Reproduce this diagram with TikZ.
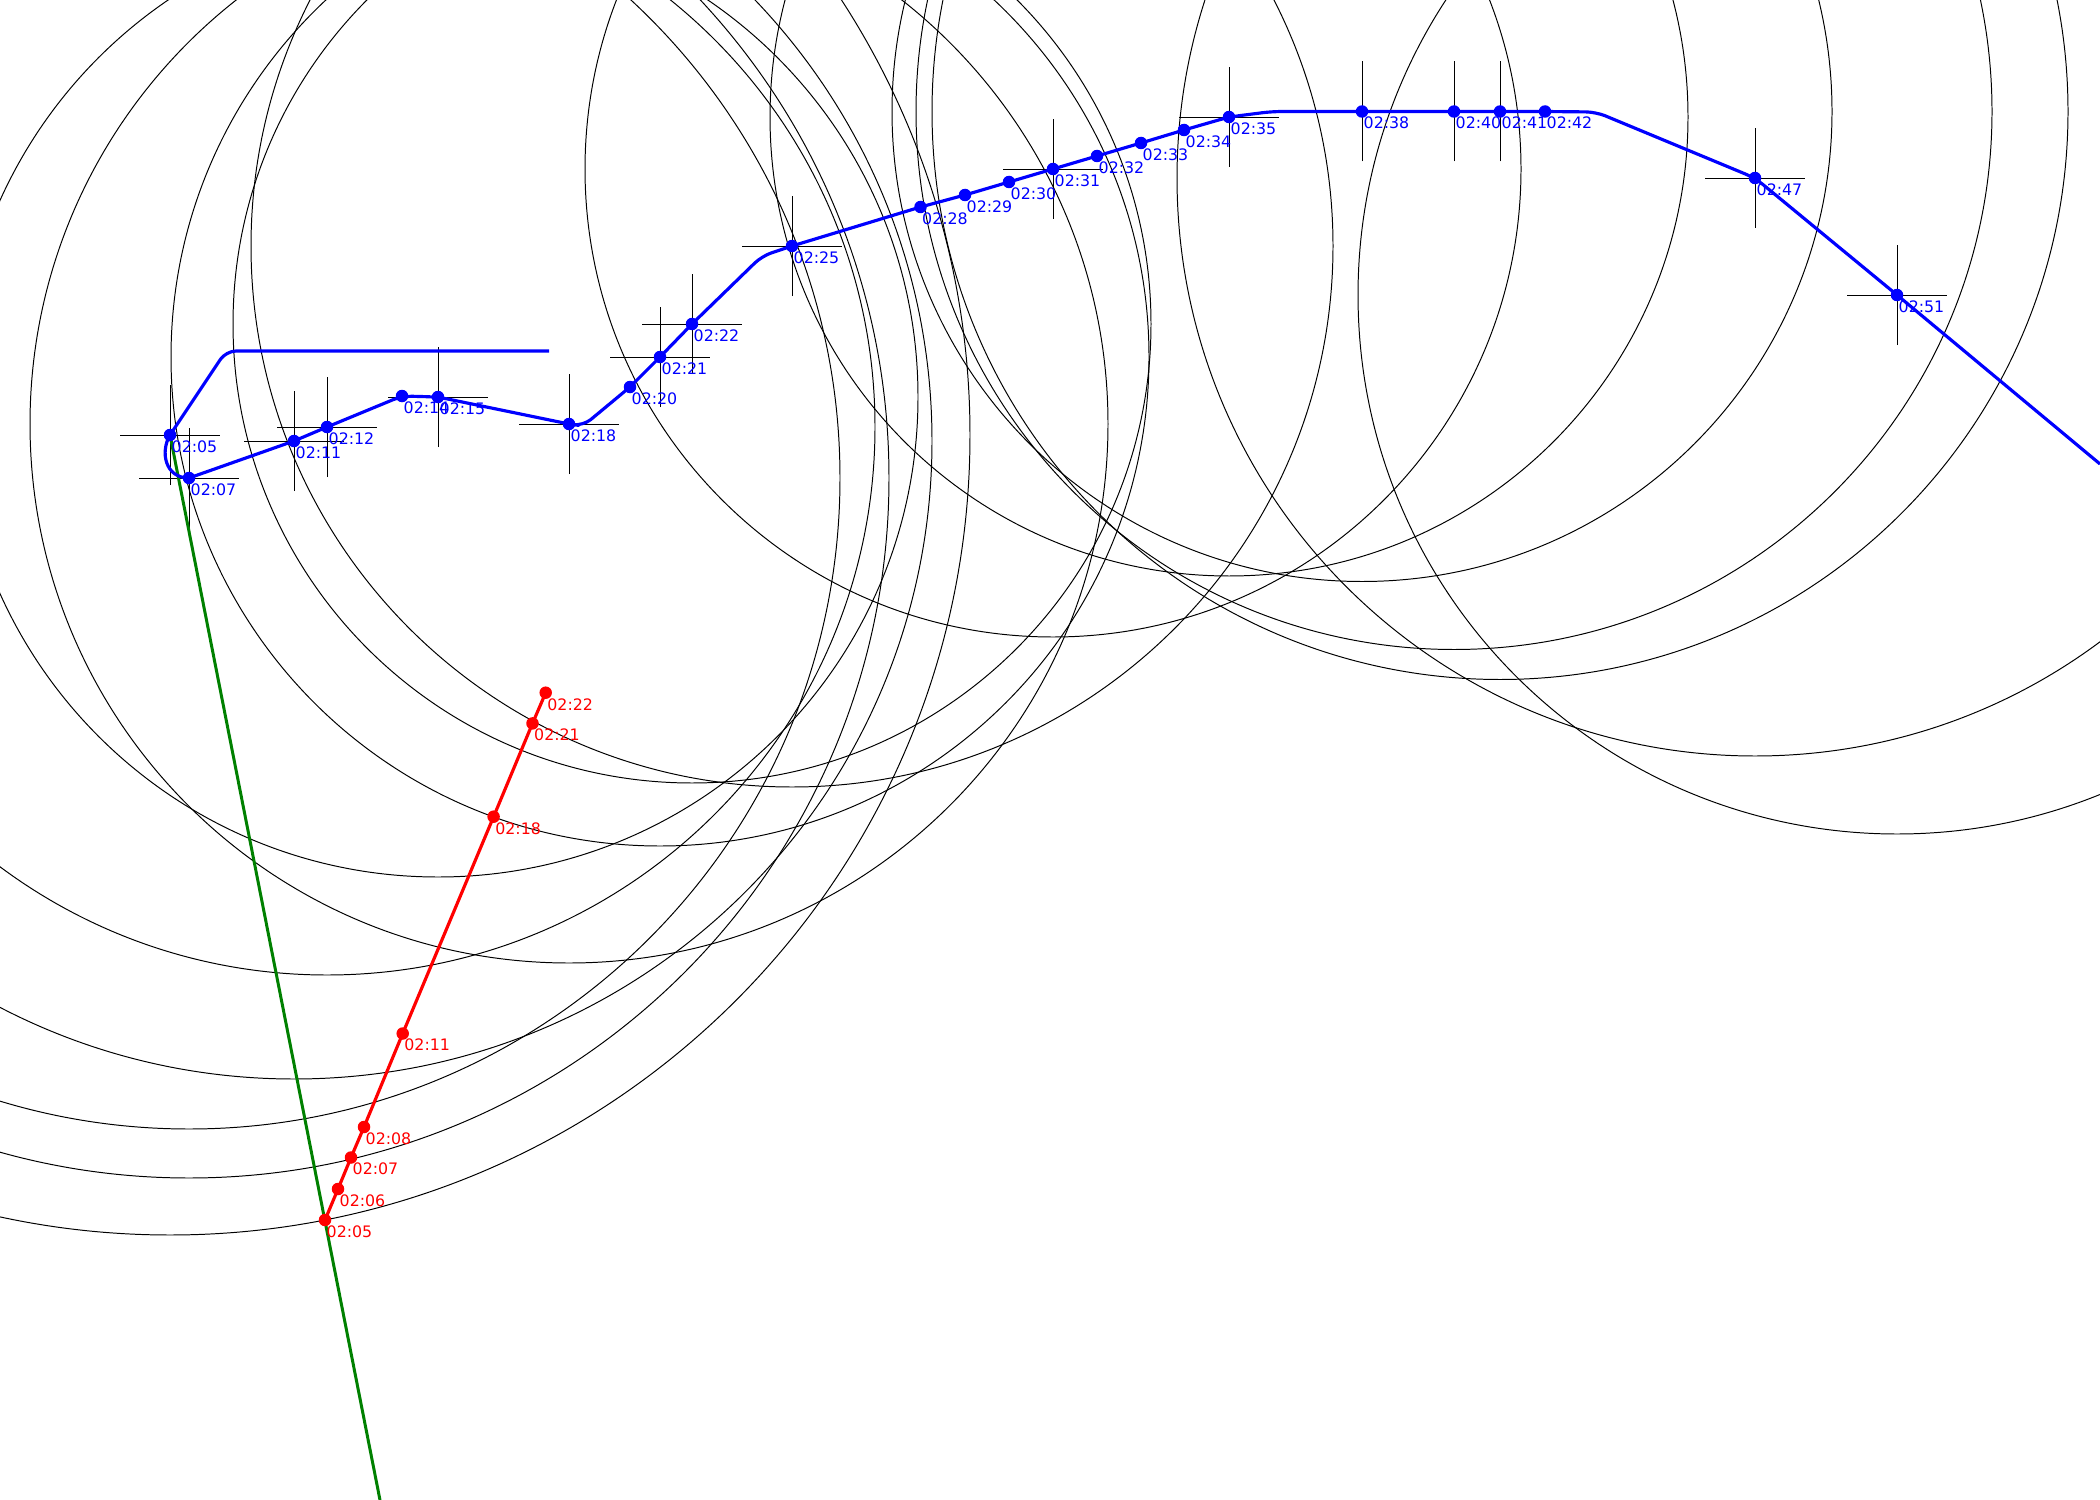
\documentclass[tikz,border=0pt]{standalone}
\usepackage{fontspec}
\newfontfamily\labfont{DejaVu Sans}
\usetikzlibrary{calc}
\definecolor{trackblue}{rgb}{0, 0, 1}
\definecolor{trackred}{rgb}{1, 0, 0}
\definecolor{trackgreen}{rgb}{0, 0.5, 0}
\tikzset{
    ring/.style={line width=0.28pt},
    cross/.style={line width=0.28pt},
    btrack/.style={trackblue, line width=0.9pt, line join=round},
    rtrack/.style={trackred, line width=0.9pt},
    gtrack/.style={trackgreen, line width=0.85pt},
    bfix/.style={circle, fill=trackblue, inner sep=0pt, minimum size=1.25mm},
    rfix/.style={circle, fill=trackred, inner sep=0pt, minimum size=1.25mm},
    blab/.style={anchor=north west, inner sep=0pt, xshift=0.1mm, yshift=-0.5mm,
        text=trackblue, font=\labfont\fontsize{4.5}{5}\selectfont},
    rlab/.style={blab, text=trackred}
}

\begin{document}
\begin{tikzpicture}[x=0.1mm, y=-0.1mm]
    \useasboundingbox (0,0) rectangle (2100,1500);
    \clip (0,0) rectangle (2100,1500);
    % blue fixes
    \foreach \n/\x/\y in {05/170/435, 07/189/478, 11/294/441, 12/327/427, 14/402/396,
        15/438/397, 18/569/424, 20/630/387, 21/660/357, 22/692/324, 25/792/246,
        28/920.5/207, 29/965/195, 30/1009/182, 31/1053/169, 32/1097/156, 33/1141/143,
        34/1184/130, 35/1229/117, 38/1362/111.5, 40/1454/111.5, 41/1500/111.5,
        42/1545/111.5, 47/1755/178, 51/1897/295}{
        \coordinate (B\n) at (\x,\y);
    }
    % red fixes
    \foreach \n/\x/\y in {05/325/1220, 06/338/1189, 07/351/1157.5, 08/364/1127,
        11/402.7/1033.5, 18/493.6/816.7, 21/532.5/723.4, 22/545.7/692.7}{
        \coordinate (R\n) at (\x,\y);
    }
    % range rings
    \foreach \n/\r in {05/80, 07/70, 07/65.1, 11/63.8, 12/54.8, 15/48, 18/53.9, 21/48.9,
        22/45.9, 25/54.1, 31/46.8, 35/45.9, 38/47, 40/53.8, 41/56.8, 47/57.8, 51/53.9}{
        \draw [ring] (B\n) circle [radius=\r*1mm];
    }
    % crosshairs
    \foreach \n in {05, 07, 11, 12, 15, 18, 21, 22, 25, 31, 35, 38, 40, 41, 47, 51}{
        \draw [cross] ([xshift=-5mm]B\n) -- ([xshift=5mm]B\n);
        \draw [cross] ([yshift=-5mm]B\n) -- ([yshift=5mm]B\n);
    }
    % green line
    \coordinate (G1) at (380,1500);
    \draw [gtrack] (B05) -- (G1);
    % blue track
    \coordinate (T0) at (549,351);
    \coordinate (T1) at (226,351);
    \coordinate (T2) at (583,426);
    \coordinate (T3) at (762,256);
    \coordinate (T4) at (1272,111.5);
    \coordinate (T5) at (1596,112);
    \coordinate (T6) at (2100,464);
    \draw [btrack, rounded corners=1mm] (T0) -- (T1) -- (B05);
    \draw [btrack] (B05) .. controls (160,452) and (165,478) .. (B07);
    \draw [btrack, rounded corners=1mm] (B07) -- (B11) -- (B12) -- (B14) -- (B15) -- (B18)
        -- (T2) -- (B20) -- (B21) -- (B22) -- (T3) -- (B25) -- (B28) -- (B29) -- (B30)
        -- (B31) -- (B32) -- (B33) -- (B34) -- (B35) -- (T4) -- (B38) -- (B40) -- (B41)
        -- (B42) -- (T5) -- (B47) -- (B51) -- (T6);
    % red track
    \draw [rtrack] (R05) -- (R06) -- (R07) -- (R08) -- (R11) -- (R18) -- (R21) -- (R22);
    % dots and times
    \foreach \n in {05, 07, 11, 12, 14, 15, 18, 20, 21, 22, 25, 28, 29, 30, 31, 32, 33,
        34, 35, 38, 40, 41, 42, 47, 51}{
        \node [bfix] (N\n) at (B\n) {};
        \node [blab] (L\n) at (B\n) {02:\n};
    }
    \foreach \n in {05, 06, 07, 08, 11, 18, 21, 22}{
        \node [rfix] (M\n) at (R\n) {};
        \node [rlab] (K\n) at (R\n) {02:\n};
    }
\end{tikzpicture}
\end{document}
